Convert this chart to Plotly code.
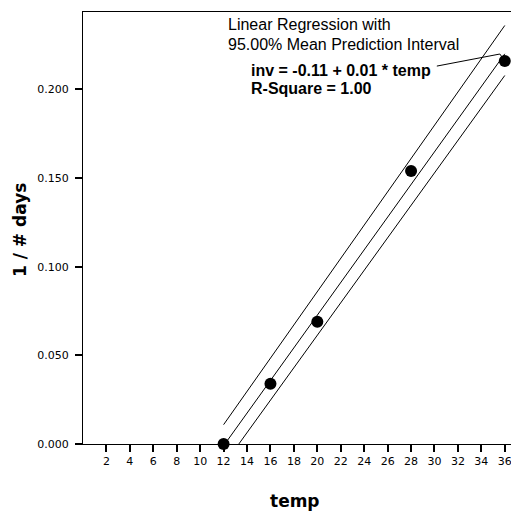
import plotly.graph_objects as go

# ---- data ----
temp = [12, 16, 20, 28, 36]
inv_days = [0.000, 0.034, 0.069, 0.154, 0.216]

line_x = [12, 36]
fit_y = [-0.001, 0.220]
upper_y = [0.0109, 0.236]
lower_y = [-0.0119, 0.2078]

leader_x = [30.2, 35.58, 35.83]
leader_y = [0.2131, 0.2199, 0.2176]

x_ticks = list(range(2, 37, 2))
y_ticks = [0.000, 0.050, 0.100, 0.150, 0.200]
y_tick_text = ["0.000", "0.050", "0.100", "0.150", "0.200"]

# ---- layout constants ----
W, H = 511, 512
L, R, T, B = 83, 0, 12, 68
PW, PH = W - L - R, H - T - B


def px(xp):
    return (xp - L) / PW


def py(yp):
    return (H - B - yp) / PH


fig = go.Figure()
for yy in (upper_y, fit_y, lower_y):
    fig.add_trace(go.Scatter(x=line_x, y=yy, mode="lines",
                             line=dict(color="black", width=1),
                             showlegend=False, hoverinfo="skip"))
fig.add_trace(go.Scatter(x=leader_x, y=leader_y, mode="lines",
                         line=dict(color="black", width=1),
                         showlegend=False, hoverinfo="skip"))
fig.add_trace(go.Scatter(x=temp, y=inv_days, mode="markers",
                         marker=dict(color="black", size=12),
                         cliponaxis=False, showlegend=False))

tick_font = dict(family="DejaVu Sans", size=11, color="black")
fig.update_xaxes(range=[0, 36.53], tickmode="array", tickvals=x_ticks,
                 ticktext=[str(v) for v in x_ticks],
                 ticklabeloverflow="allow",
                 showline=True, linecolor="black", linewidth=1, mirror=True,
                 ticks="outside", ticklen=7, tickwidth=2, tickcolor="black",
                 showgrid=False, zeroline=False, tickfont=tick_font)
fig.update_yaxes(range=[0, 0.2436], tickmode="array", tickvals=y_ticks,
                 ticktext=y_tick_text, ticklabelstandoff=4,
                 showline=True, linecolor="black", linewidth=1, mirror=False,
                 ticks="outside", ticklen=7, tickwidth=2, tickcolor="black",
                 showgrid=False, zeroline=False, tickfont=tick_font)

ann_font = dict(family="Liberation Sans, Arial", size=16, color="black")
title_font = dict(family="DejaVu Sans", size=17, color="black")
annotations = [
    dict(text="Linear Regression with", x=px(226), y=py(25)),
    dict(text="95.00% Mean Prediction Interval", x=px(226), y=py(45)),
    dict(text="<b>inv = -0.11 + 0.01 * temp</b>", x=px(249), y=py(70)),
    dict(text="<b>R-Square = 1.00</b>", x=px(249), y=py(89)),
]
for a in annotations:
    fig.add_annotation(xref="paper", yref="paper", xanchor="left",
                       yanchor="middle", showarrow=False, font=ann_font, **a)
fig.add_annotation(text="<b>1 / # days</b>", xref="paper", yref="paper",
                   x=px(20), y=py(230), textangle=-90, showarrow=False,
                   xanchor="center", yanchor="middle", font=title_font)
fig.add_annotation(text="<b>temp</b>", xref="paper", yref="paper",
                   x=px(295), y=py(501), showarrow=False,
                   xanchor="center", yanchor="middle", font=title_font)

fig.update_layout(width=W, height=H, margin=dict(l=L, r=R, t=T, b=B),
                  plot_bgcolor="white", paper_bgcolor="white",
                  showlegend=False)
fig.write_html("out.html",
               config={"displayModeBar": False},
               post_script="document.body.style.margin='0';"
                           "document.body.style.overflow='hidden';")
